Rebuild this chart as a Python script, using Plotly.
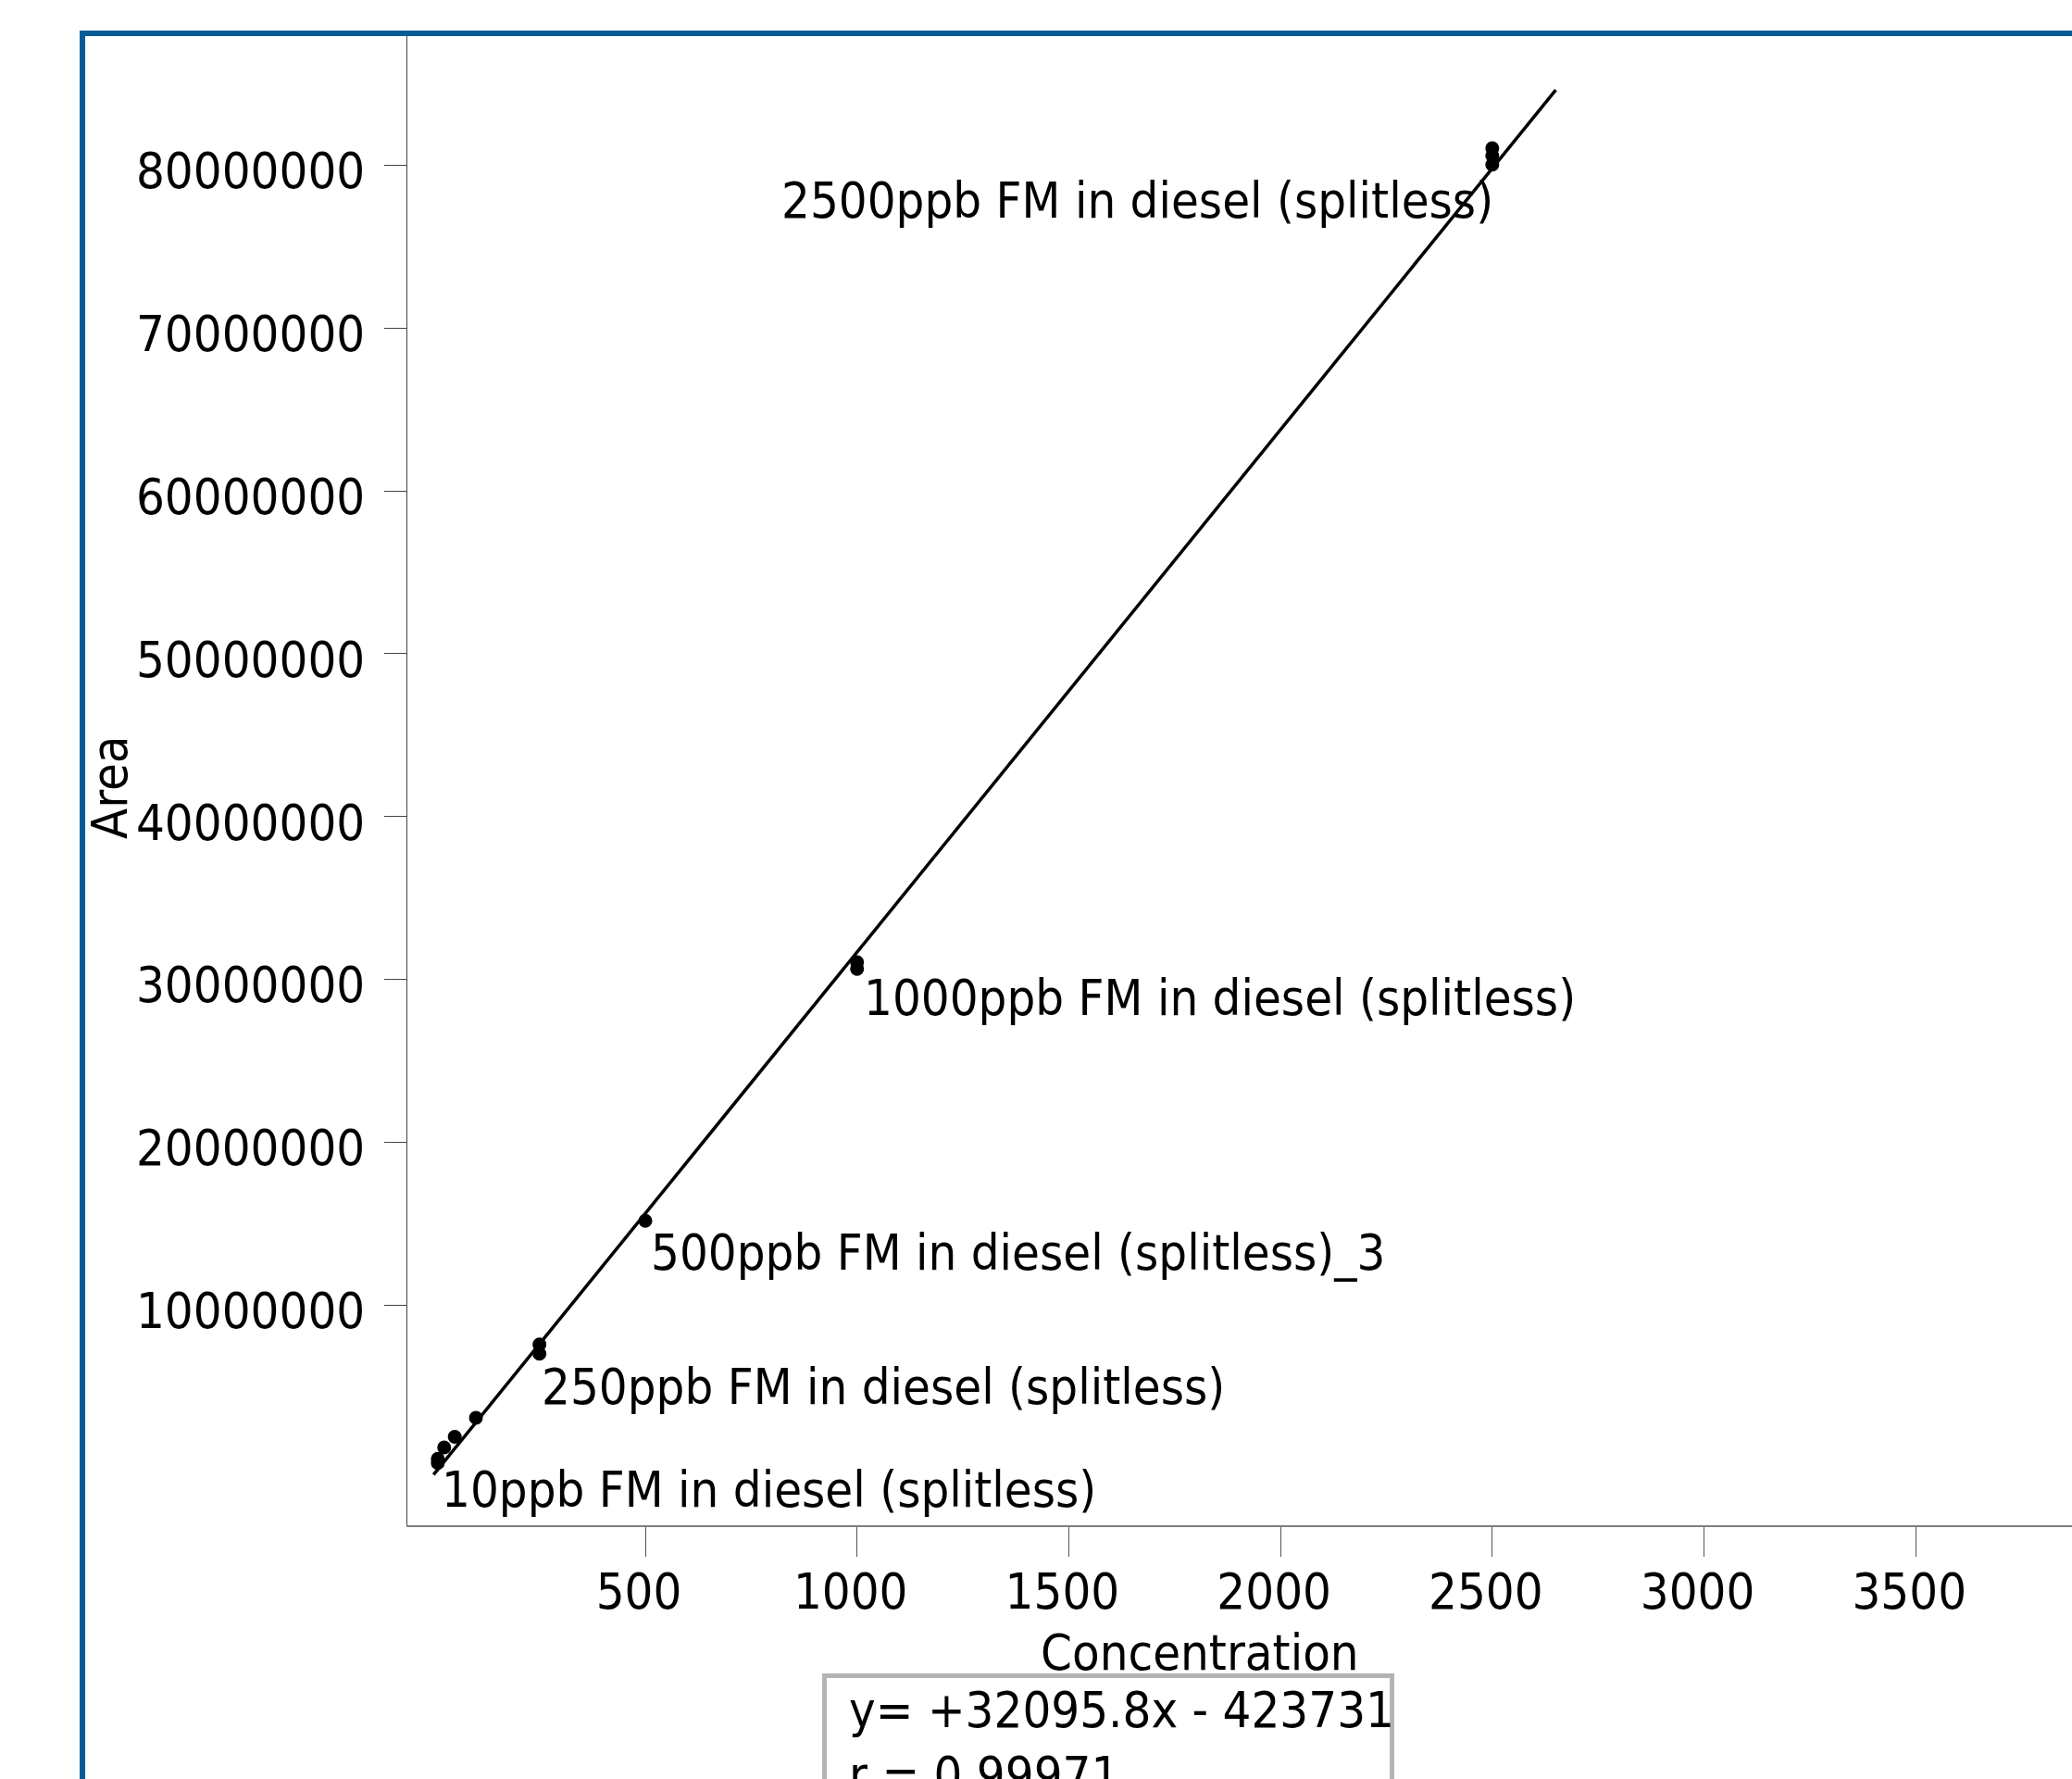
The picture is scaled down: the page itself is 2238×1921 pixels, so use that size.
import plotly.graph_objects as go

# Calibration data: concentration (ppb) and integrated peak area
conc = [10, 10, 25, 50, 100, 250, 250, 500, 1000, 1000, 2500, 2500, 2500]
area = [0.55e6, 0.30e6, 1.25e6, 1.90e6, 3.07e6, 7.58e6, 7.01e6, 15.17e6,
        31.05e6, 30.65e6, 81.05e6, 80.60e6, 80.05e6]

# Sample names shown next to selected calibration points
label_conc = [10, 250, 500, 1000, 2500]
label_area = [0.55e6, 7.58e6, 15.17e6, 31.05e6, 81.05e6]
label_text = [
    "10ppb FM in diesel (splitless)",
    "250ppb FM in diesel (splitless)",
    "500ppb FM in diesel (splitless)_3",
    "1000ppb FM in diesel (splitless)",
    "2500ppb FM in diesel (splitless)",
]

# Linear fit results
slope = 32095.8
intercept = -423731
r_value = 0.99971
fit_x = [0, 2650]

x_ticks = [500, 1000, 1500, 2000, 2500, 3000, 3500]
y_ticks = [10000000, 20000000, 30000000, 40000000, 50000000, 60000000, 70000000, 80000000]

FONT = "DejaVu Sans Condensed, DejaVu Sans, sans-serif"
FS = 54

fig = go.Figure()

fig.add_trace(go.Scatter(
    x=fit_x, y=[slope * v + intercept for v in fit_x],
    mode="lines", line=dict(color="black", width=3.5),
    hoverinfo="skip", showlegend=False,
))
fig.add_trace(go.Scatter(
    x=conc, y=area, mode="markers",
    marker=dict(color="black", size=15),
    showlegend=False,
))

# label placement: (xanchor, xshift, yshift) per sample label
label_style = [
    ("left", 2, -33),
    ("left", 0, -46),
    ("left", 4, -34),
    ("left", 5, -38),
    ("right", 3, -56),
]
for cx, ay, txt, (xa, dx, dy) in zip(label_conc, label_area, label_text, label_style):
    fig.add_annotation(x=cx, y=ay, xref="x", yref="y", text=txt, showarrow=False,
                       xanchor=xa, yanchor="middle", xshift=dx, yshift=dy,
                       font=dict(family=FONT, size=FS, color="black"))

# axis titles
fig.add_annotation(x=-0.1791, y=0.4956, xref="paper", yref="paper", text="Area",
                   textangle=-90, showarrow=False, xanchor="center", yanchor="middle",
                   font=dict(family=FONT, size=FS, color="black"))
fig.add_annotation(x=0.4761, y=-0.0852, xref="paper", yref="paper", text="Concentration",
                   showarrow=False, xanchor="center", yanchor="middle",
                   font=dict(family=FONT, size=FS, color="black"))

# regression summary box
fig.add_shape(type="rect", xref="paper", yref="paper",
              x0=0.2506, x1=0.5915, y0=-0.4, y1=-0.1011,
              line=dict(color="#b4b4b4", width=5), fillcolor="white", layer="above")
fig.add_annotation(x=0.2642, y=-0.1238, xref="paper", yref="paper",
                   text=f"y= +{slope:.1f}x - {abs(intercept):.0f}",
                   showarrow=False, xanchor="left", yanchor="middle",
                   font=dict(family=FONT, size=FS, color="black"))
fig.add_annotation(x=0.2642, y=-0.1673, xref="paper", yref="paper",
                   text=f"r = {r_value:.5f}",
                   showarrow=False, xanchor="left", yanchor="middle",
                   font=dict(family=FONT, size=FS, color="black"))

# outer blue frame
fig.add_shape(type="rect", xref="paper", yref="paper",
              x0=-0.1952, x1=1.2, y0=-0.4, y1=1.0019,
              line=dict(color="#055c96", width=6), layer="above")

fig.update_xaxes(
    range=[-61.9, 3869], tickvals=x_ticks, ticktext=[str(v) for v in x_ticks],
    showgrid=False, zeroline=False,
    showline=True, linecolor="#7f7f7f", linewidth=2,
    ticks="outside", ticklen=32, tickcolor="#555555", tickwidth=1,
    ticklabelshift=-7, ticklabelstandoff=-9,
    tickfont=dict(family=FONT, size=FS, color="black"),
)
fig.update_yaxes(
    range=[-3.53e6, 87.94e6], tickvals=y_ticks, ticktext=[str(v) for v in y_ticks],
    showgrid=False, zeroline=False,
    showline=True, linecolor="#444444", linewidth=1,
    ticks="outside", ticklen=24, tickcolor="#444444", tickwidth=1,
    ticklabelshift=6, ticklabelstandoff=10,
    tickfont=dict(family=FONT, size=FS, color="black"),
)

fig.update_layout(
    width=2238, height=1921, autosize=False,
    margin=dict(l=440, r=0, t=39, b=274, pad=0),
    paper_bgcolor="white", plot_bgcolor="white",
    showlegend=False,
)

fig.write_html("out.html")
